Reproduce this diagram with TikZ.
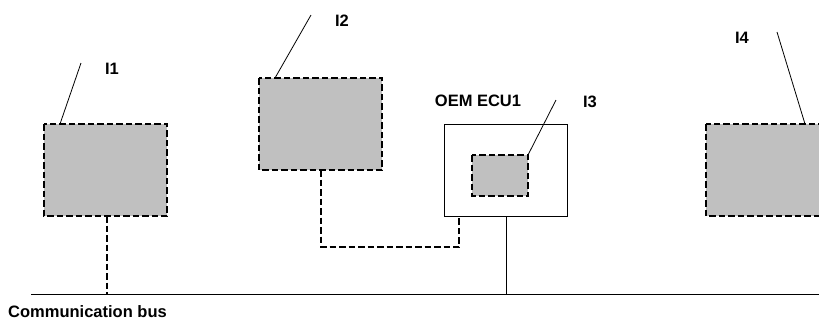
\documentclass[tikz,border=0pt]{standalone}
\usepackage{fontspec}
\setmainfont{Liberation Sans}
\begin{document}
\begin{tikzpicture}[x=1pt,y=-1pt,
  comp/.style={draw=black,fill={rgb,255:red,192;green,192;blue,192},line width=2pt,dash pattern=on 6.5pt off 3pt},
  dlink/.style={draw=black,line width=2pt,dash pattern=on 6.5pt off 3pt},
  thin/.style={draw=black,line width=0.8pt},
  lbl/.style={font=\fontsize{16.5}{19}\selectfont\bfseries,inner sep=0pt}]
\useasboundingbox (0,0) rectangle (819,322);
\begin{scope}
\clip (0,0) rectangle (819,322);
% components
\path[comp] (44,124) rectangle (167,216);
\coordinate (i1tl) at (60,124);
\coordinate (i1b) at (107,216);
\path[comp] (259,78) rectangle (382,170);
\coordinate (i2tl) at (275,78);
\coordinate (i2b) at (321,170);
\draw[thin,fill=white] (444,124) rectangle (567,216);
\coordinate (ecub) at (506,216);
\coordinate (ecul) at (459,216);
\path[comp] (472,155) rectangle (528,196);
\coordinate (i3tr) at (528,155);
\path[comp] (706,124) rectangle (830,216);
\coordinate (i4t) at (805,124);
% bus
\coordinate (busL) at (31,294);
\coordinate (busR) at (819,294);
\draw[thin] (busL) -- (busR);
\coordinate (bus1) at (107,294);
\coordinate (bus2) at (506,294);
\path[dlink] (i1b) -- (bus1);
\draw[thin] (ecub) -- (bus2);
\path[dlink] (i2b) -- (321,247) -- (459,247) -- (ecul);
% labels
\node[lbl] (l1) at (112,69) {I1};
\node[lbl] (l2) at (342,21) {I2};
\node[lbl] (l3) at (590,102) {I3};
\node[lbl] (l4) at (742,38) {I4};
\node[lbl] (ecu) at (478,101) {OEM ECU1};
\node[lbl,anchor=west] (bus) at (8,312) {Communication bus};
\coordinate (p1) at (81,63);
\coordinate (p2) at (311,15);
\coordinate (p3) at (556,100);
\coordinate (p4) at (777,32);
\draw[thin] (i1tl) -- (p1);
\draw[thin] (i2tl) -- (p2);
\draw[thin] (i3tr) -- (p3);
\draw[thin] (i4t) -- (p4);
\end{scope}
\end{tikzpicture}
\end{document}
